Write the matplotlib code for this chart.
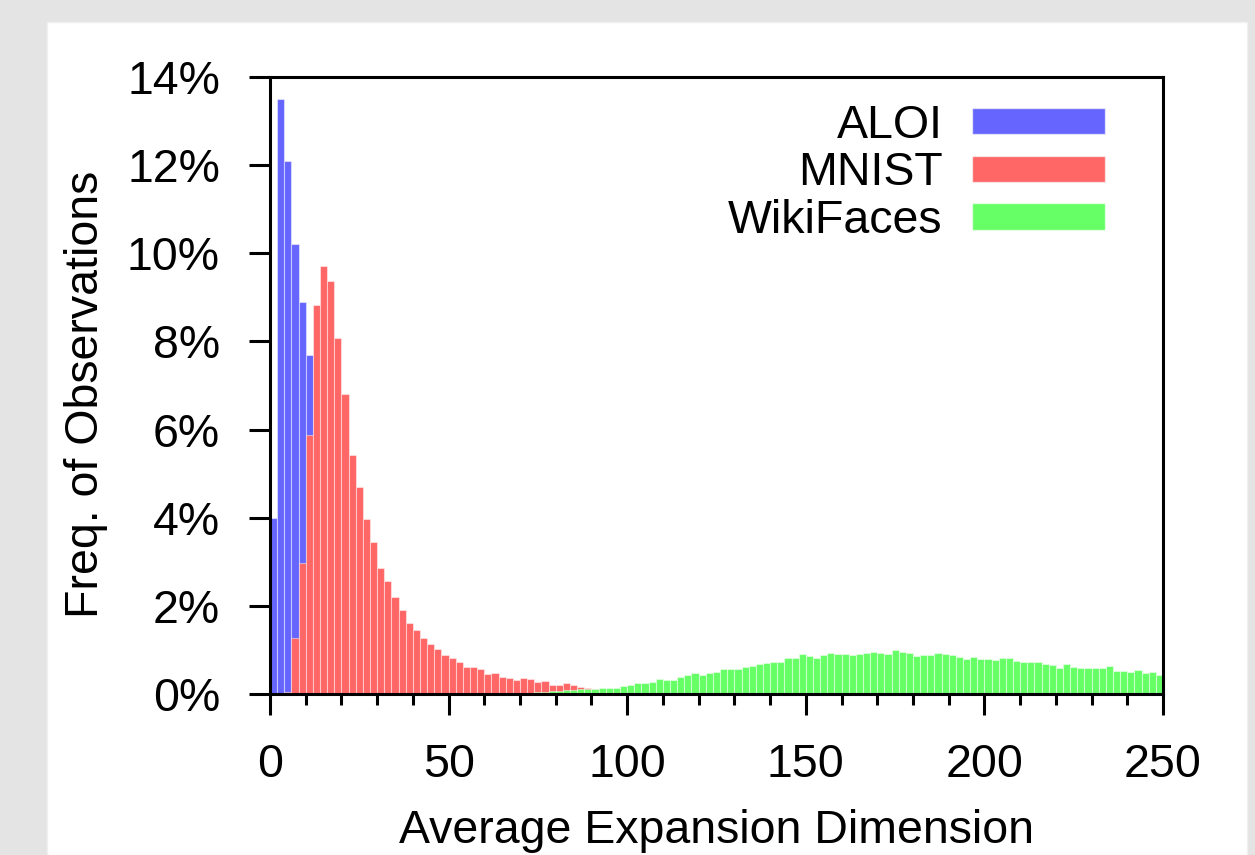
import numpy as np
import matplotlib
matplotlib.use("Agg")
import matplotlib.pyplot as plt
from matplotlib.patches import Patch, Rectangle
from matplotlib.ticker import MultipleLocator, FuncFormatter

plt.rcParams['font.family'] = ['Liberation Sans', 'DejaVu Sans']

# histogram data, bins of width 2, values in percent
bin_width = 2

aloi_start = 0
aloi = [4.0, 13.5, 12.1, 10.2, 8.9, 7.7]

mnist_start = 0
mnist = [0.0, 0.0, 0.05, 1.26, 2.97, 5.87, 8.82, 9.72, 9.36, 8.07,
         6.80, 5.42, 4.69, 3.97, 3.45, 2.85, 2.57, 2.19, 1.90, 1.62,
         1.45, 1.28, 1.14, 1.01, 0.89, 0.82, 0.73, 0.62, 0.61, 0.57,
         0.46, 0.47, 0.39, 0.37, 0.32, 0.36, 0.34, 0.27, 0.30, 0.21,
         0.20, 0.24, 0.21, 0.17, 0.13, 0.12, 0.10, 0.09, 0.08, 0.07]

wiki_start = 70
wiki = [0.02, 0.03, 0.04, 0.05, 0.06, 0.07, 0.08, 0.09, 0.11, 0.12,
        0.12, 0.13, 0.13, 0.14, 0.18, 0.20, 0.24, 0.26, 0.27, 0.33,
        0.32, 0.32, 0.39, 0.43, 0.47, 0.43, 0.48, 0.51, 0.57, 0.57,
        0.57, 0.62, 0.64, 0.67, 0.70, 0.72, 0.72, 0.81, 0.81, 0.91,
        0.87, 0.81, 0.89, 0.92, 0.91, 0.91, 0.89, 0.91, 0.94, 0.95,
        0.92, 0.91, 1.00, 0.96, 0.94, 0.86, 0.89, 0.89, 0.92, 0.90,
        0.88, 0.85, 0.79, 0.84, 0.79, 0.79, 0.77, 0.81, 0.82, 0.75,
        0.72, 0.72, 0.72, 0.68, 0.66, 0.60, 0.67, 0.62, 0.59, 0.59,
        0.59, 0.59, 0.64, 0.52, 0.52, 0.51, 0.55, 0.48, 0.51, 0.42]

series = [
    ("ALOI", aloi_start, aloi, "#6666ff"),
    ("MNIST", mnist_start, mnist, "#ff6666"),
    ("WikiFaces", wiki_start, wiki, "#66ff66"),
]

fs = 33.5

fig = plt.figure(figsize=(12.55, 8.55), dpi=100, facecolor="#e4e4e4")
# white panel behind the plot
fig.patches.append(Rectangle((47 / 1255, 0), 1200 / 1255, 833 / 855,
                             transform=fig.transFigure, facecolor="white",
                             edgecolor="#f0f0f0", lw=1, zorder=-10))

ax = fig.add_axes([270 / 1255, 161 / 855, 893 / 1255, 617 / 855])
ax.set_facecolor("white")

handles = []
for name, start, vals, col in series:
    lefts = start + bin_width * np.arange(len(vals))
    ax.bar(lefts, vals, width=bin_width, align="edge", color=col,
           edgecolor=(1, 1, 1, 0.45), linewidth=0.8)
    handles.append(Patch(facecolor=col, edgecolor=(1, 1, 1, 0.6), label=name))

ax.set_xlim(0, 250)
ax.set_ylim(0, 14)
ax.xaxis.set_major_locator(MultipleLocator(50))
ax.xaxis.set_minor_locator(MultipleLocator(10))
ax.yaxis.set_major_locator(MultipleLocator(2))
ax.yaxis.set_major_formatter(FuncFormatter(lambda v, p: f"{v:.0f}%"))

for s in ax.spines.values():
    s.set_linewidth(2.2)
    s.set_zorder(5)

ax.tick_params(axis="both", which="major", direction="out", length=15,
               width=2.2, labelsize=fs, pad=21)
ax.tick_params(axis="x", which="major", pad=20)
ax.tick_params(axis="x", which="minor", direction="out", length=8, width=2.2)
ax.tick_params(top=False, right=False)

ax.set_xlabel("Average Expansion Dimension", fontsize=fs)
ax.xaxis.set_label_coords(0.5, -0.186)
ax.xaxis.label.set_va("top")
ax.set_ylabel("Freq. of Observations", fontsize=fs)
ax.yaxis.set_label_coords(-0.181, 0.485)

ax.legend(handles=handles, loc="upper right", bbox_to_anchor=(0.9555, 0.987),
          frameon=False, markerfirst=False, fontsize=fs,
          handlelength=2.86, handleheight=0.5, labelspacing=0.08,
          handletextpad=0.62, borderaxespad=0)

fig.savefig("out.png", dpi=100, facecolor=fig.get_facecolor())
